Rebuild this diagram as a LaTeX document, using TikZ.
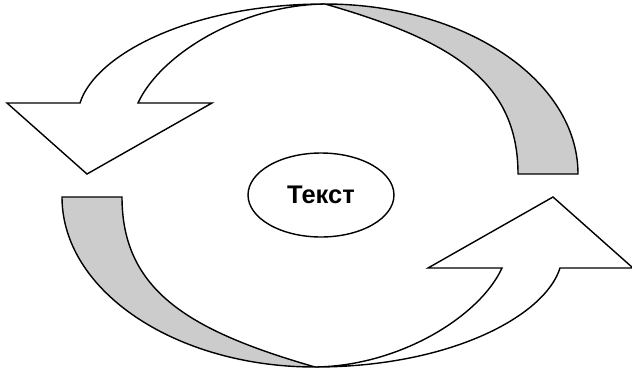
\documentclass[tikz,border=0pt]{standalone}
\usepackage{fontspec}
\setmainfont{Liberation Sans}
\usepackage{tikz}
\usetikzlibrary{shapes.geometric}
\definecolor{bandgray}{HTML}{CCCCCC}

\begin{document}
\begin{tikzpicture}[
  x=0.02cm, y=-0.02cm,
  front/.style={draw=black, line width=0.8pt, fill=white},
  back/.style={draw=black, line width=0.8pt, fill=bandgray},
  hub/.style={ellipse, draw=black, line width=0.8pt, fill=white, minimum width=2.92cm, minimum height=1.68cm, inner sep=0pt, font=\bfseries\fontsize{14.5}{17}\selectfont}
]
\useasboundingbox (0,0) rectangle (632,369);
% two twisted arrows, the second one turned half round
\foreach \ang in {0,180}{
  \begin{scope}[rotate around={\ang:(320,185.5)}]
    \coordinate (twist) at (325,4);
    % back side of the band
    \draw[back] (twist) .. controls (464.7,4) and (578,80.2) .. (578,174)
      -- (518,174) .. controls (518,80) and (450,40) .. (twist) -- cycle;
    % front side with the head
    \draw[front] (80,103) .. controls (95,55) and (190,4) .. (twist)
      .. controls (240,5) and (160,55) .. (138,103)
      -- (212,103) -- (87,174) -- (7,103) -- cycle;
  \end{scope}
}
\node[hub] (hub) at (321,195) {Текст};
\end{tikzpicture}
\end{document}
